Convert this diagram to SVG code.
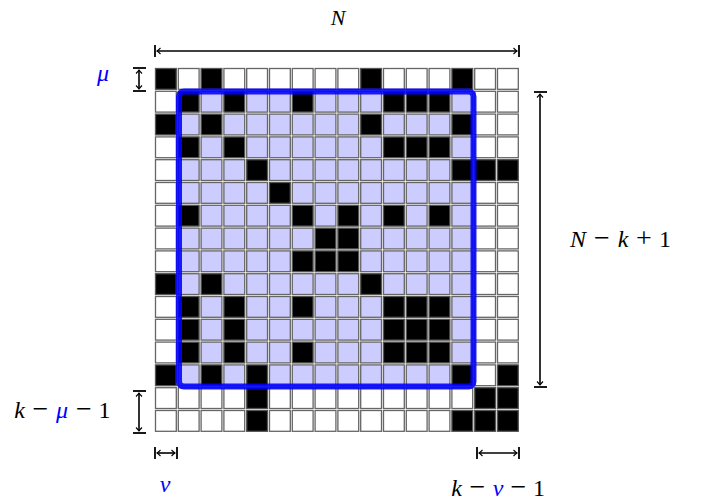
<svg xmlns="http://www.w3.org/2000/svg" width="702" height="502" viewBox="0 0 702 502">
<style>
.lbl{font-family:"Liberation Serif","DejaVu Serif",serif;font-size:24px;fill:#000}
.i{font-style:italic}
.bl{fill:#0000ff;font-style:italic}
.op{font-size:28px}
.dim{stroke:#000;stroke-width:1.6;fill:none}
.tick{stroke:#000;stroke-width:1.8}
</style>
<defs>
<rect id="w" width="20.8" height="20.8" fill="#fff" stroke="#666" stroke-width="1.3"/>
<rect id="b" width="20.8" height="20.8" fill="#ccccff" stroke="#666" stroke-width="1.3"/>
<rect id="k" width="20.8" height="20.8" fill="#000" stroke="#555" stroke-width="1.3"/>
<marker id="ah" viewBox="-5 -5 10 10" markerWidth="10" markerHeight="10" refX="0" refY="0" orient="auto-start-reverse" markerUnits="userSpaceOnUse">
<path d="M-3.5,-3 Q-1,-0.6 0,0 Q-1,0.6 -3.5,3" fill="none" stroke="#000" stroke-width="1.1"/>
</marker>
</defs>
<g id="grid">
<g id="r0" transform="translate(0,68.5)"><use href="#k" x="155.5"/><use href="#w" x="178.3"/><use href="#k" x="201.1"/><use href="#w" x="223.9"/><use href="#w" x="246.7"/><use href="#w" x="269.5"/><use href="#w" x="292.3"/><use href="#w" x="315.1"/><use href="#w" x="337.9"/><use href="#k" x="360.7"/><use href="#w" x="383.5"/><use href="#w" x="406.3"/><use href="#w" x="429.1"/><use href="#k" x="451.9"/><use href="#w" x="474.7"/><use href="#w" x="497.5"/></g>
<g id="r1" transform="translate(0,91.3)"><use href="#w" x="155.5"/><use href="#k" x="178.3"/><use href="#b" x="201.1"/><use href="#k" x="223.9"/><use href="#b" x="246.7"/><use href="#b" x="269.5"/><use href="#k" x="292.3"/><use href="#b" x="315.1"/><use href="#b" x="337.9"/><use href="#b" x="360.7"/><use href="#k" x="383.5"/><use href="#k" x="406.3"/><use href="#k" x="429.1"/><use href="#b" x="451.9"/><use href="#w" x="474.7"/><use href="#w" x="497.5"/></g>
<g id="r2" transform="translate(0,114.1)"><use href="#k" x="155.5"/><use href="#b" x="178.3"/><use href="#k" x="201.1"/><use href="#b" x="223.9"/><use href="#b" x="246.7"/><use href="#b" x="269.5"/><use href="#b" x="292.3"/><use href="#b" x="315.1"/><use href="#b" x="337.9"/><use href="#k" x="360.7"/><use href="#b" x="383.5"/><use href="#b" x="406.3"/><use href="#b" x="429.1"/><use href="#k" x="451.9"/><use href="#w" x="474.7"/><use href="#w" x="497.5"/></g>
<g id="r3" transform="translate(0,136.9)"><use href="#w" x="155.5"/><use href="#k" x="178.3"/><use href="#b" x="201.1"/><use href="#k" x="223.9"/><use href="#b" x="246.7"/><use href="#b" x="269.5"/><use href="#b" x="292.3"/><use href="#b" x="315.1"/><use href="#b" x="337.9"/><use href="#b" x="360.7"/><use href="#k" x="383.5"/><use href="#k" x="406.3"/><use href="#k" x="429.1"/><use href="#b" x="451.9"/><use href="#w" x="474.7"/><use href="#w" x="497.5"/></g>
<g id="r4" transform="translate(0,159.7)"><use href="#w" x="155.5"/><use href="#b" x="178.3"/><use href="#b" x="201.1"/><use href="#b" x="223.9"/><use href="#k" x="246.7"/><use href="#b" x="269.5"/><use href="#b" x="292.3"/><use href="#b" x="315.1"/><use href="#b" x="337.9"/><use href="#b" x="360.7"/><use href="#b" x="383.5"/><use href="#b" x="406.3"/><use href="#b" x="429.1"/><use href="#k" x="451.9"/><use href="#k" x="474.7"/><use href="#k" x="497.5"/></g>
<g id="r5" transform="translate(0,182.5)"><use href="#w" x="155.5"/><use href="#b" x="178.3"/><use href="#b" x="201.1"/><use href="#b" x="223.9"/><use href="#b" x="246.7"/><use href="#k" x="269.5"/><use href="#b" x="292.3"/><use href="#b" x="315.1"/><use href="#b" x="337.9"/><use href="#b" x="360.7"/><use href="#b" x="383.5"/><use href="#b" x="406.3"/><use href="#b" x="429.1"/><use href="#b" x="451.9"/><use href="#w" x="474.7"/><use href="#w" x="497.5"/></g>
<g id="r6" transform="translate(0,205.3)"><use href="#w" x="155.5"/><use href="#k" x="178.3"/><use href="#b" x="201.1"/><use href="#b" x="223.9"/><use href="#b" x="246.7"/><use href="#b" x="269.5"/><use href="#k" x="292.3"/><use href="#b" x="315.1"/><use href="#k" x="337.9"/><use href="#b" x="360.7"/><use href="#k" x="383.5"/><use href="#b" x="406.3"/><use href="#k" x="429.1"/><use href="#b" x="451.9"/><use href="#w" x="474.7"/><use href="#w" x="497.5"/></g>
<g id="r7" transform="translate(0,228.1)"><use href="#w" x="155.5"/><use href="#b" x="178.3"/><use href="#b" x="201.1"/><use href="#b" x="223.9"/><use href="#b" x="246.7"/><use href="#b" x="269.5"/><use href="#b" x="292.3"/><use href="#k" x="315.1"/><use href="#k" x="337.9"/><use href="#b" x="360.7"/><use href="#b" x="383.5"/><use href="#b" x="406.3"/><use href="#b" x="429.1"/><use href="#b" x="451.9"/><use href="#w" x="474.7"/><use href="#w" x="497.5"/></g>
<g id="r8" transform="translate(0,250.9)"><use href="#w" x="155.5"/><use href="#b" x="178.3"/><use href="#b" x="201.1"/><use href="#b" x="223.9"/><use href="#b" x="246.7"/><use href="#b" x="269.5"/><use href="#k" x="292.3"/><use href="#k" x="315.1"/><use href="#k" x="337.9"/><use href="#b" x="360.7"/><use href="#b" x="383.5"/><use href="#b" x="406.3"/><use href="#b" x="429.1"/><use href="#b" x="451.9"/><use href="#w" x="474.7"/><use href="#w" x="497.5"/></g>
<g id="r9" transform="translate(0,273.7)"><use href="#k" x="155.5"/><use href="#b" x="178.3"/><use href="#k" x="201.1"/><use href="#b" x="223.9"/><use href="#b" x="246.7"/><use href="#b" x="269.5"/><use href="#b" x="292.3"/><use href="#b" x="315.1"/><use href="#b" x="337.9"/><use href="#k" x="360.7"/><use href="#b" x="383.5"/><use href="#b" x="406.3"/><use href="#b" x="429.1"/><use href="#b" x="451.9"/><use href="#w" x="474.7"/><use href="#w" x="497.5"/></g>
<g id="r10" transform="translate(0,296.5)"><use href="#w" x="155.5"/><use href="#k" x="178.3"/><use href="#b" x="201.1"/><use href="#k" x="223.9"/><use href="#b" x="246.7"/><use href="#b" x="269.5"/><use href="#k" x="292.3"/><use href="#b" x="315.1"/><use href="#b" x="337.9"/><use href="#b" x="360.7"/><use href="#k" x="383.5"/><use href="#k" x="406.3"/><use href="#k" x="429.1"/><use href="#b" x="451.9"/><use href="#w" x="474.7"/><use href="#w" x="497.5"/></g>
<g id="r11" transform="translate(0,319.3)"><use href="#w" x="155.5"/><use href="#k" x="178.3"/><use href="#b" x="201.1"/><use href="#k" x="223.9"/><use href="#b" x="246.7"/><use href="#b" x="269.5"/><use href="#b" x="292.3"/><use href="#b" x="315.1"/><use href="#b" x="337.9"/><use href="#b" x="360.7"/><use href="#k" x="383.5"/><use href="#k" x="406.3"/><use href="#k" x="429.1"/><use href="#b" x="451.9"/><use href="#w" x="474.7"/><use href="#w" x="497.5"/></g>
<g id="r12" transform="translate(0,342.1)"><use href="#w" x="155.5"/><use href="#k" x="178.3"/><use href="#b" x="201.1"/><use href="#k" x="223.9"/><use href="#b" x="246.7"/><use href="#b" x="269.5"/><use href="#k" x="292.3"/><use href="#b" x="315.1"/><use href="#b" x="337.9"/><use href="#b" x="360.7"/><use href="#k" x="383.5"/><use href="#k" x="406.3"/><use href="#k" x="429.1"/><use href="#b" x="451.9"/><use href="#w" x="474.7"/><use href="#w" x="497.5"/></g>
<g id="r13" transform="translate(0,364.9)"><use href="#k" x="155.5"/><use href="#b" x="178.3"/><use href="#k" x="201.1"/><use href="#b" x="223.9"/><use href="#k" x="246.7"/><use href="#b" x="269.5"/><use href="#b" x="292.3"/><use href="#b" x="315.1"/><use href="#b" x="337.9"/><use href="#b" x="360.7"/><use href="#b" x="383.5"/><use href="#b" x="406.3"/><use href="#b" x="429.1"/><use href="#k" x="451.9"/><use href="#w" x="474.7"/><use href="#k" x="497.5"/></g>
<g id="r14" transform="translate(0,387.7)"><use href="#w" x="155.5"/><use href="#w" x="178.3"/><use href="#w" x="201.1"/><use href="#w" x="223.9"/><use href="#k" x="246.7"/><use href="#w" x="269.5"/><use href="#w" x="292.3"/><use href="#w" x="315.1"/><use href="#w" x="337.9"/><use href="#w" x="360.7"/><use href="#w" x="383.5"/><use href="#w" x="406.3"/><use href="#w" x="429.1"/><use href="#w" x="451.9"/><use href="#k" x="474.7"/><use href="#k" x="497.5"/></g>
<g id="r15" transform="translate(0,410.5)"><use href="#w" x="155.5"/><use href="#w" x="178.3"/><use href="#w" x="201.1"/><use href="#w" x="223.9"/><use href="#k" x="246.7"/><use href="#w" x="269.5"/><use href="#w" x="292.3"/><use href="#w" x="315.1"/><use href="#w" x="337.9"/><use href="#w" x="360.7"/><use href="#w" x="383.5"/><use href="#w" x="406.3"/><use href="#w" x="429.1"/><use href="#k" x="451.9"/><use href="#k" x="474.7"/><use href="#k" x="497.5"/></g>
</g>
<rect id="window" x="179" y="91.5" width="294.5" height="295" rx="5" fill="none" stroke="#0000ff" stroke-opacity="0.88" stroke-width="6"/>
<g id="dimensions">
<line class="dim" x1="157" y1="51" x2="517" y2="51" marker-start="url(#ah)" marker-end="url(#ah)"/>
<line class="tick" x1="155" y1="45" x2="155" y2="57"/><line class="tick" x1="519" y1="45" x2="519" y2="57"/>
<line class="dim" x1="139" y1="70" x2="139" y2="89" marker-start="url(#ah)" marker-end="url(#ah)"/>
<line class="tick" x1="133" y1="68" x2="146" y2="68"/><line class="tick" x1="133" y1="91" x2="146" y2="91"/>
<line class="dim" x1="540" y1="94" x2="540" y2="385" marker-start="url(#ah)" marker-end="url(#ah)"/>
<line class="tick" x1="534" y1="92" x2="547" y2="92"/><line class="tick" x1="534" y1="387" x2="547" y2="387"/>
<line class="dim" x1="139" y1="393" x2="139" y2="431" marker-start="url(#ah)" marker-end="url(#ah)"/>
<line class="tick" x1="133" y1="391" x2="146" y2="391"/><line class="tick" x1="133" y1="433" x2="146" y2="433"/>
<line class="dim" x1="157" y1="453" x2="175" y2="453" marker-start="url(#ah)" marker-end="url(#ah)"/>
<line class="tick" x1="155" y1="447" x2="155" y2="459"/><line class="tick" x1="177" y1="447" x2="177" y2="459"/>
<line class="dim" x1="479" y1="453" x2="517" y2="453" marker-start="url(#ah)" marker-end="url(#ah)"/>
<line class="tick" x1="477" y1="447" x2="477" y2="459"/><line class="tick" x1="519" y1="447" x2="519" y2="459"/>
</g>
<g id="labels">
<text class="lbl i" x="338" y="25" text-anchor="middle" style="font-size:22px">N</text>
<text class="lbl bl" x="103" y="81" text-anchor="middle">μ</text>
<text class="lbl" y="247" text-anchor="middle"><tspan class="i" x="578">N</tspan><tspan class="op" x="602">−</tspan><tspan class="i" x="623">k</tspan><tspan class="op" x="644">+</tspan><tspan x="665">1</tspan></text>
<text class="lbl" y="418" text-anchor="middle"><tspan class="i" x="19.5">k</tspan><tspan class="op" x="40.5">−</tspan><tspan class="bl" x="62">μ</tspan><tspan class="op" x="84">−</tspan><tspan x="104.5">1</tspan></text>
<text class="lbl bl" x="165" y="492" text-anchor="middle">ν</text>
<text class="lbl" y="496" text-anchor="middle"><tspan class="i" x="456.5">k</tspan><tspan class="op" x="477.5">−</tspan><tspan class="bl" x="498">ν</tspan><tspan class="op" x="518.5">−</tspan><tspan x="539">1</tspan></text>
</g>
</svg>
